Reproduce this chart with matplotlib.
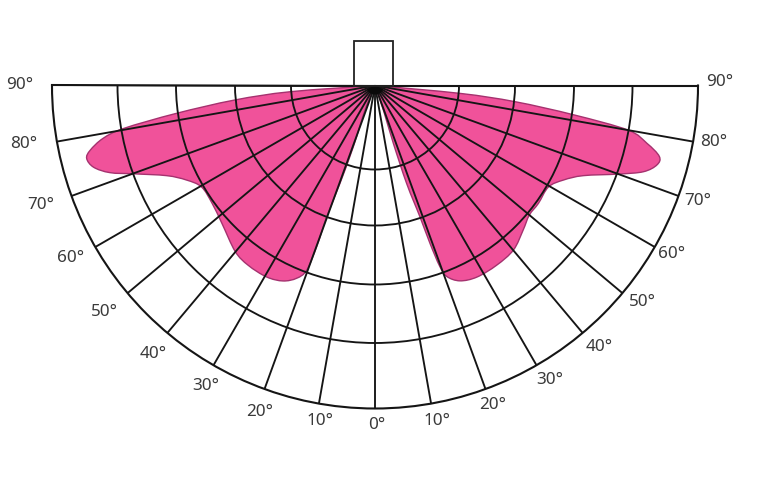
import numpy as np
import matplotlib
matplotlib.use("Agg")
import matplotlib.pyplot as plt
from matplotlib.path import Path
from matplotlib.patches import PathPatch, Rectangle

W, H = 761, 501

# Readings: angle from nadir (deg), radius (px-like intensity units)
left_angle = [88, 85.8, 84.1, 82.0, 80.3, 79.0, 77.2, 75.8, 73.8, 71.8, 69.9, 66.6, 63.4, 59.7,
              54.2, 48.0, 40.1, 35.2, 29.5, 25.2, 22.1, 20.3, 19.9, 20.2, 19.7, 19.5, 22.2, 24]
left_radius = [0, 84.6, 140.8, 201, 255, 277, 292, 297.4, 293, 279, 257, 227, 211, 201,
               201, 206, 217, 220, 220, 216, 208, 197, 171, 140, 104, 65, 26, 0]
right_angle = [88, 84.7, 83.4, 81.6, 80.0, 78.0, 76.0, 74.3, 72.2, 70.0, 66.6, 63.4, 59.7, 54.2,
               50, 45.7, 40.1, 34.1, 28, 23.5, 20.6, 19.7, 19.2, 18.9, 17.9, 17.6, 18.8, 20]
right_radius = [0, 85.4, 141, 201, 257, 278, 293, 293, 282, 259, 227, 211, 201, 201.5,
                201.5, 207, 215, 217, 217, 213, 204, 192, 167, 139, 103, 61, 26, 0]

theta_ticks = np.arange(-90, 91, 10)
radial_ticks = [84, 140, 199, 257.5]
outer_radius = 323

labels = ["90°", "80°", "70°", "60°", "50°", "40°", "30°", "20°", "10°", "0°",
          "10°", "20°", "30°", "40°", "50°", "60°", "70°", "80°", "90°"]
label_x = [20, 24, 41, 71, 104, 153, 206, 260, 320, 377, 437, 493, 550, 599, 642, 672, 698, 714, 720]
label_y = [85, 144, 205, 258, 312, 354, 386, 412, 421, 425, 421, 405, 380, 347, 302, 254, 201, 142, 82]

plt.rcParams["font.family"] = ["Noto Sans", "DejaVu Sans"]
fig = plt.figure(figsize=(W / 100, H / 100), dpi=100, facecolor="white")

cx, cy = 375, 85.5
R = outer_radius
# A half-disc wedge is centred inside a square axes box
ax = fig.add_axes([(cx - R) / W, (H - cy - 1.5 * R) / H, 2 * R / W, 2 * R / H], projection="polar")
ax.set_theta_zero_location("S")
ax.set_thetamin(-90)
ax.set_thetamax(90)
ax.set_rlim(0, outer_radius)
ax.set_xticks(np.deg2rad(theta_ticks))
ax.set_yticks(radial_ticks)
ax.set_xticklabels([])
ax.set_yticklabels([])
ax.tick_params(length=0)
ax.set_axisbelow(False)
ax.grid(True, color="#151515", linewidth=1.35)
for s in ax.spines.values():
    s.set_color("#151515")
    s.set_linewidth(1.5)
ax.patch.set_alpha(0)


def lobe(angles, radii):
    """Smooth closed curve through the read points; tangents taken in the plane."""
    t = np.deg2rad(angles)
    r = np.asarray(radii, float)
    p = np.column_stack([r * np.sin(t), r * np.cos(t)])

    def to_polar(q):
        return [np.arctan2(q[0], q[1]), np.hypot(q[0], q[1])]

    verts, codes = [[t[0], r[0]]], [Path.MOVETO]
    n = len(p)
    for i in range(n - 1):
        a, b, c, d = p[max(i - 1, 0)], p[i], p[i + 1], p[min(i + 2, n - 1)]
        verts += [to_polar(b + (c - a) / 6), to_polar(c - (d - b) / 6), [t[i + 1], r[i + 1]]]
        codes += [Path.CURVE4] * 3
    verts.append(verts[0])
    codes.append(Path.CLOSEPOLY)
    return Path(np.array(verts), codes)


for sign, ang, rad in ((-1, left_angle, left_radius), (1, right_angle, right_radius)):
    ax.add_patch(PathPatch(lobe(sign * np.array(ang), rad), facecolor="#F0529A",
                           edgecolor="#A5326F", linewidth=1.0, zorder=1))

# Dense knot where the spokes converge
ax.bar(0, 9, width=np.deg2rad(130), color="#0a0a0a", linewidth=0, zorder=3)

fig.add_artist(Rectangle((354 / W, (H - 86) / H), 39 / W, 44.5 / H, transform=fig.transFigure,
                         fill=False, edgecolor="#222222", linewidth=1.3))

for s, x, y in zip(labels, label_x, label_y):
    fig.text(x / W, (H - y) / H, s, ha="center", va="center", fontsize=12.3, color="#3a3a3a")

fig.savefig("out.png", dpi=100)
